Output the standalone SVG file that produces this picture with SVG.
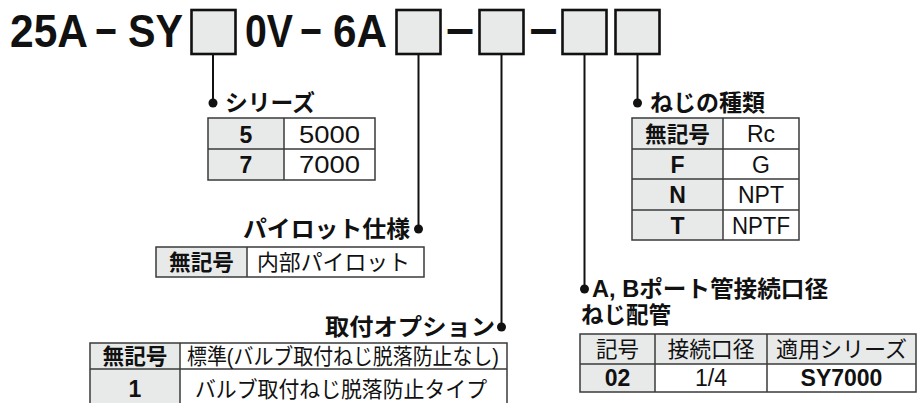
<svg xmlns="http://www.w3.org/2000/svg" width="917" height="403" viewBox="0 0 917 403">
<style>
.title{font-family:"Liberation Sans","Noto Sans CJK JP",sans-serif;font-weight:700;font-size:47px;fill:#111}
.dash{font-family:"Liberation Sans",sans-serif;font-weight:700;font-size:46px;fill:#111;text-anchor:middle}
.box{fill:#e8e9e9;stroke:#111;stroke-width:2.6}
.lead{stroke:#111;stroke-width:2;fill:none}
.dot{fill:#111}
.lbl{font-family:"Liberation Sans","Noto Sans CJK JP",sans-serif;font-weight:700;font-size:23px;fill:#111}
.cell{stroke:#3a3a3a;stroke-width:1.5}
.g{fill:#e8e9e9}
.w{fill:#fff}
.tb{font-family:"Liberation Sans","Noto Sans CJK JP",sans-serif;font-weight:700;font-size:23px;fill:#111;text-anchor:middle}
.tr{font-family:"Liberation Sans","Noto Sans CJK JP",sans-serif;font-weight:400;font-size:23px;fill:#111;text-anchor:middle}
.jb{font-family:"Noto Sans CJK JP",sans-serif;font-weight:700;font-size:22px;fill:#111;text-anchor:middle}
.jr{font-family:"Liberation Sans","Noto Sans CJK JP",sans-serif;font-weight:400;font-size:22px;fill:#111;text-anchor:middle}
</style>

<g id="title">
<text class="title" x="10" y="47" textLength="78" lengthAdjust="spacingAndGlyphs">25A</text>
<text class="dash" x="106" y="47" textLength="22" lengthAdjust="spacingAndGlyphs">−</text>
<text class="title" x="128" y="47" textLength="55" lengthAdjust="spacingAndGlyphs">SY</text>
<text class="title" x="245" y="47" textLength="48" lengthAdjust="spacingAndGlyphs">0V</text>
<text class="dash" x="311" y="47" textLength="22" lengthAdjust="spacingAndGlyphs">−</text>
<text class="title" x="333" y="47" textLength="54" lengthAdjust="spacingAndGlyphs">6A</text>
<text class="dash" x="460" y="47" textLength="29" lengthAdjust="spacingAndGlyphs">−</text>
<text class="dash" x="543.5" y="47" textLength="29" lengthAdjust="spacingAndGlyphs">−</text>
</g>

<g id="box-series"><rect class="box" x="191.5" y="10" width="44" height="44"/></g>
<g id="box-pilot"><rect class="box" x="396.5" y="10" width="44" height="44"/></g>
<g id="box-option"><rect class="box" x="479.5" y="10" width="44" height="44"/></g>
<g id="box-port"><rect class="box" x="562.5" y="10" width="44" height="44"/></g>
<g id="box-thread"><rect class="box" x="615.5" y="10" width="44" height="44"/></g>

<g id="connectors">
<line class="lead" x1="213" y1="54" x2="213" y2="103"/>
<circle class="dot" cx="213" cy="103" r="4.5"/>
<line class="lead" x1="418.5" y1="54" x2="418.5" y2="229"/>
<circle class="dot" cx="418.5" cy="229" r="4.5"/>
<line class="lead" x1="501.5" y1="54" x2="501.5" y2="327"/>
<circle class="dot" cx="501.5" cy="327" r="4.5"/>
<line class="lead" x1="584.5" y1="54" x2="584.5" y2="289"/>
<circle class="dot" cx="584.5" cy="289" r="4.5"/>
<line class="lead" x1="637.5" y1="54" x2="637.5" y2="103"/>
<circle class="dot" cx="637.5" cy="103" r="4.5"/>
</g>

<g id="series">
<text class="lbl" x="225" y="111" textLength="90" lengthAdjust="spacingAndGlyphs">シリーズ</text>
<rect class="g" x="208" y="118" width="76" height="62"/>
<rect class="w" x="284" y="118" width="91" height="62"/>
<rect class="cell" x="208" y="118" width="167" height="62" fill="none"/>
<line class="cell" x1="208" y1="149" x2="375" y2="149"/>
<line class="cell" x1="284" y1="118" x2="284" y2="180"/>
<text class="tb" x="246" y="142.5">5</text>
<text class="tr" x="329.5" y="142.5" textLength="61" lengthAdjust="spacingAndGlyphs">5000</text>
<text class="tb" x="246" y="173">7</text>
<text class="tr" x="329.5" y="173" textLength="61" lengthAdjust="spacingAndGlyphs">7000</text>
</g>

<g id="thread">
<text class="lbl" x="650" y="111" textLength="115" lengthAdjust="spacingAndGlyphs">ねじの種類</text>
<rect class="g" x="632" y="118" width="91" height="122"/>
<rect class="w" x="723" y="118" width="76" height="122"/>
<rect class="cell" x="632" y="118" width="167" height="122" fill="none"/>
<line class="cell" x1="632" y1="149" x2="799" y2="149"/>
<line class="cell" x1="632" y1="179" x2="799" y2="179"/>
<line class="cell" x1="632" y1="210" x2="799" y2="210"/>
<line class="cell" x1="723" y1="118" x2="723" y2="240"/>
<text class="jb" x="677.5" y="141.5" textLength="65" lengthAdjust="spacingAndGlyphs">無記号</text>
<text class="tr" x="761" y="142">Rc</text>
<text class="tb" x="677.5" y="172.5">F</text>
<text class="tr" x="761" y="172.5">G</text>
<text class="tb" x="677.5" y="203">N</text>
<text class="tr" x="761" y="203">NPT</text>
<text class="tb" x="677.5" y="233.5">T</text>
<text class="tr" x="761" y="233.5" textLength="58" lengthAdjust="spacingAndGlyphs">NPTF</text>
</g>

<g id="pilot">
<text class="lbl" x="410" y="237" text-anchor="end" textLength="167" lengthAdjust="spacingAndGlyphs">パイロット仕様</text>
<rect class="g" x="156" y="247" width="91" height="30"/>
<rect class="w" x="247" y="247" width="177" height="30"/>
<rect class="cell" x="156" y="247" width="268" height="30" fill="none"/>
<line class="cell" x1="247" y1="247" x2="247" y2="277"/>
<text class="jb" x="201.5" y="270" textLength="65" lengthAdjust="spacingAndGlyphs">無記号</text>
<text class="jr" x="333.5" y="270" textLength="153" lengthAdjust="spacingAndGlyphs">内部パイロット</text>
</g>

<g id="option">
<text class="lbl" x="495" y="335" text-anchor="end" textLength="170" lengthAdjust="spacingAndGlyphs">取付オプション</text>
<rect class="g" x="90" y="343" width="90" height="64"/>
<rect class="w" x="180" y="343" width="327" height="64"/>
<rect class="cell" x="90" y="343" width="417" height="64" fill="none"/>
<line class="cell" x1="90" y1="369" x2="507" y2="369"/>
<line class="cell" x1="180" y1="343" x2="180" y2="407"/>
<text class="jb" x="135" y="364" textLength="65" lengthAdjust="spacingAndGlyphs">無記号</text>
<text class="jr" x="343" y="364" textLength="312" lengthAdjust="spacingAndGlyphs">標準(バルブ取付ねじ脱落防止なし)</text>
<text class="tb" x="135" y="397">1</text>
<text class="jr" x="341" y="397" textLength="292" lengthAdjust="spacingAndGlyphs">バルブ取付ねじ脱落防止タイプ</text>
</g>

<g id="port">
<text class="lbl" x="592" y="297" textLength="236" lengthAdjust="spacingAndGlyphs">A, Bポート管接続口径</text>
<text class="lbl" x="581" y="323" textLength="90" lengthAdjust="spacingAndGlyphs">ねじ配管</text>
<rect class="g" x="580" y="334" width="336" height="30"/>
<rect class="g" x="580" y="364" width="75" height="28"/>
<rect class="w" x="655" y="364" width="261" height="28"/>
<rect class="cell" x="580" y="334" width="336" height="58" fill="none"/>
<line class="cell" x1="580" y1="364" x2="916" y2="364"/>
<line class="cell" x1="655" y1="334" x2="655" y2="392"/>
<line class="cell" x1="767" y1="334" x2="767" y2="392"/>
<text class="jr" x="617.5" y="357" textLength="43" lengthAdjust="spacingAndGlyphs">記号</text>
<text class="jr" x="711" y="357" textLength="87" lengthAdjust="spacingAndGlyphs">接続口径</text>
<text class="jr" x="841.5" y="357" textLength="131" lengthAdjust="spacingAndGlyphs">適用シリーズ</text>
<text class="tb" x="617.5" y="386">02</text>
<text class="tr" x="711" y="386">1/4</text>
<text class="tb" x="841.5" y="386">SY7000</text>
</g>
</svg>
